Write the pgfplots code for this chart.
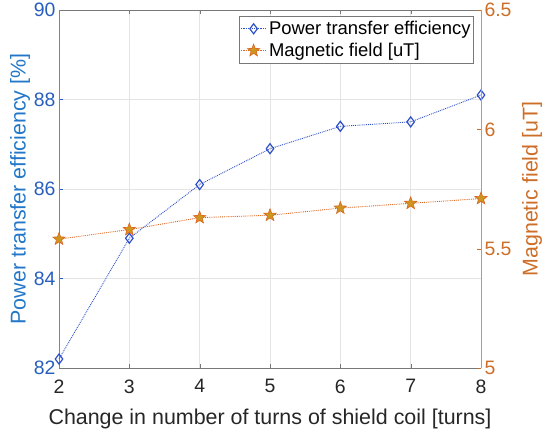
\documentclass[border=0pt]{standalone}
\usepackage{fontspec}
\setmainfont{Liberation Sans}
\usepackage{pgfplots}
\pgfplotsset{compat=1.18}

\definecolor{lblue}{RGB}{40,95,190}
\definecolor{laxis}{RGB}{95,135,215}
\definecolor{sblue}{RGB}{45,80,200}
\definecolor{rorange}{RGB}{205,110,40}
\definecolor{raxis}{RGB}{205,150,90}
\definecolor{sorange}{RGB}{220,100,30}
\definecolor{sfill}{RGB}{205,150,30}
\definecolor{gridc}{RGB}{228,228,228}
\definecolor{boxc}{RGB}{120,120,120}

% filled five point star
\pgfdeclareplotmark{fstar}{%
  \pgfpathmoveto{\pgfpointpolar{90}{\pgfplotmarksize}}%
  \pgfpathlineto{\pgfpointpolar{126}{0.42\pgfplotmarksize}}%
  \pgfpathlineto{\pgfpointpolar{162}{\pgfplotmarksize}}%
  \pgfpathlineto{\pgfpointpolar{198}{0.42\pgfplotmarksize}}%
  \pgfpathlineto{\pgfpointpolar{234}{\pgfplotmarksize}}%
  \pgfpathlineto{\pgfpointpolar{270}{0.42\pgfplotmarksize}}%
  \pgfpathlineto{\pgfpointpolar{306}{\pgfplotmarksize}}%
  \pgfpathlineto{\pgfpointpolar{342}{0.42\pgfplotmarksize}}%
  \pgfpathlineto{\pgfpointpolar{18}{\pgfplotmarksize}}%
  \pgfpathlineto{\pgfpointpolar{54}{0.42\pgfplotmarksize}}%
  \pgfpathclose
  \pgfusepathqfillstroke}

\pgfplotsset{
  twin/.style={
    at={(0,0)}, anchor=south west,
    scale only axis, width=422bp, height=358bp,
    xmin=2, xmax=8, clip=false,
    /pgf/number format/assume math mode=true,
    tick align=inside,
    major tick length=4bp,
  },
  effstyle/.style={sblue, densely dotted, line width=0.9pt,
    mark=diamond, mark size=5bp,
    mark options={solid, line width=1.2pt, fill=white, draw=sblue}},
  magstyle/.style={sorange, densely dotted, line width=0.9pt,
    mark=fstar, mark size=6.5bp,
    mark options={solid, line width=0.6pt, fill=sfill, draw=sorange}},
}

\begin{document}
\begin{tikzpicture}
\path[use as bounding box] (-59bp,-64bp) rectangle (491bp,368bp);

\begin{axis}[
  twin,
  ymin=82, ymax=90,
  xtick={2,3,4,5,6,7,8}, ytick={82,84,86,88,90},
  axis x line*=box, axis y line*=left,
  x axis line style={boxc, line width=0.6pt, -},
  y axis line style={laxis, line width=0.8pt, -},
  xtick style={boxc}, ytick style={lblue},
  xtick pos=both, ytick pos=left,
  grid=major, major grid style={gridc, line width=0.5pt},
  xticklabel style={font=\fontsize{19.5}{23}\selectfont, text=black!85,
    yshift=-8bp},
  yticklabel style={font=\fontsize{19.5}{23}\selectfont, text=lblue},
  xlabel={Change in number of turns of shield coil [turns]},
  ylabel={Power transfer efficiency [\%]},
  xlabel style={font=\fontsize{21.5}{25}\selectfont, text=black!85,
    at={(axis description cs:0.5,-0.143)}, anchor=center},
  ylabel style={font=\fontsize{21.5}{25}\selectfont, text=lblue!85!cyan,
    at={(axis description cs:-0.092,0.5)}, anchor=center},
]
\addplot[effstyle] coordinates {
  (2,82.2) (3,84.9) (4,86.1) (5,86.9) (6,87.4) (7,87.5) (8,88.1)
};
\end{axis}

\begin{axis}[
  twin,
  ymin=5, ymax=6.5,
  ytick={5,5.5,6,6.5},
  axis x line=none, axis y line*=right,
  y axis line style={raxis, line width=0.8pt, -},
  ytick style={rorange},
  yticklabel style={font=\fontsize{19.5}{23}\selectfont, text=rorange,
    /pgf/number format/fixed},
  ylabel={Magnetic field [uT]},
  ylabel style={font=\fontsize{21.5}{25}\selectfont, text=rorange,
    at={(axis description cs:1.121,0.5)}, anchor=center},
  legend style={at={(axis description cs:0.983,0.983)}, anchor=north east,
    font=\fontsize{18.5}{22}\selectfont, draw=boxc, line width=0.6pt,
    inner xsep=1bp, inner ysep=3bp, row sep=3bp, cells={anchor=west}},
  legend image code/.code={%
    \draw[mark repeat=2, mark phase=2, #1]
      plot coordinates {(0bp,0bp) (13bp,0bp) (26bp,0bp)};},
]
\addlegendimage{effstyle}
\addlegendentry{Power transfer efficiency}
\addplot[magstyle] coordinates {
  (2,5.54) (3,5.58) (4,5.63) (5,5.64) (6,5.67) (7,5.69) (8,5.71)
};
\addlegendentry{Magnetic field [uT]}
\end{axis}
\end{tikzpicture}
\end{document}
